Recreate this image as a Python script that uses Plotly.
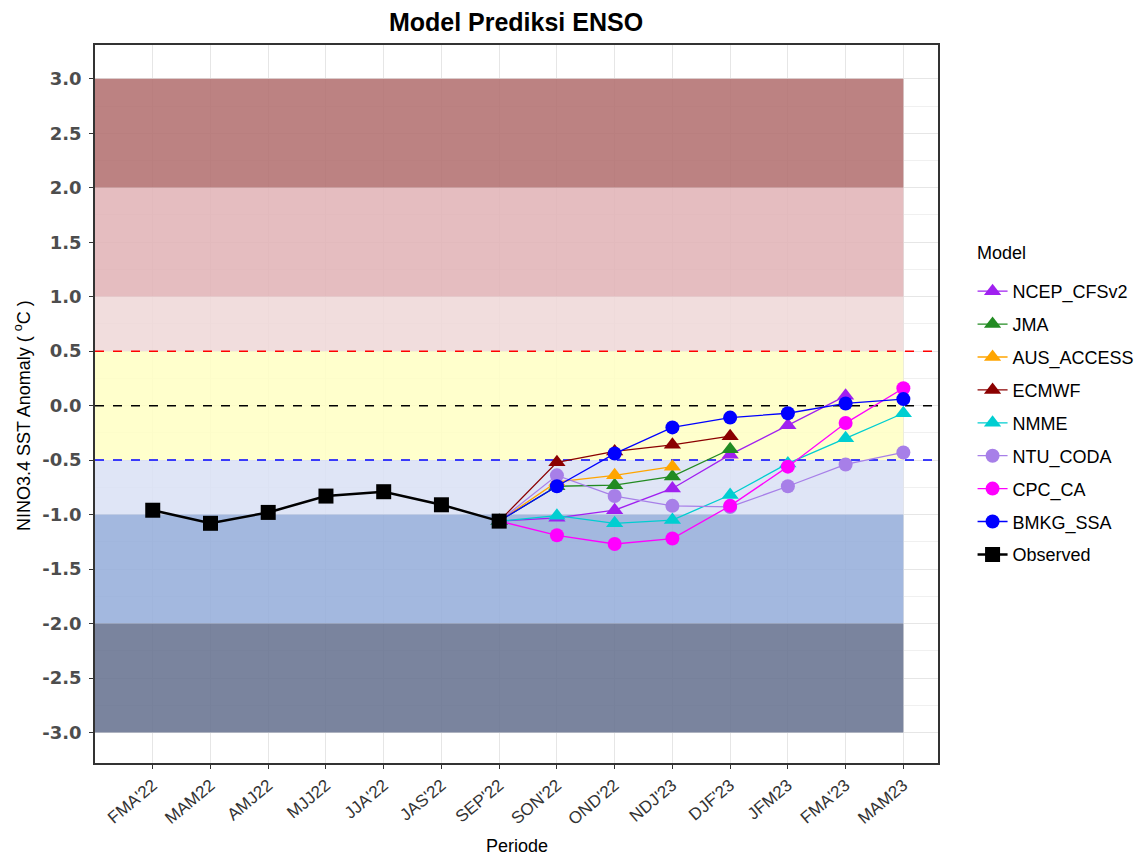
import plotly.graph_objects as go

periods = ["FMA'22", "MAM22", "AMJ22", "MJJ22", "JJA'22", "JAS'22", "SEP'22",
           "SON'22", "OND'22", "NDJ'23", "DJF'23", "JFM23", "FMA'23", "MAM23"]
y_ticks = [3.0, 2.5, 2.0, 1.5, 1.0, 0.5, 0.0, -0.5, -1.0, -1.5, -2.0, -2.5, -3.0]

observed = [-0.96, -1.08, -0.98, -0.83, -0.79, -0.91, -1.06]

# forecasts start at SEP'22 (index 6)
ncep = [-1.06, -1.03, -0.96, -0.76, -0.45, -0.18, 0.09]
jma = [-1.06, -0.74, -0.73, -0.65, -0.40]
aus = [-1.06, -0.70, -0.64, -0.56]
ecmwf = [-1.06, -0.52, -0.42, -0.36, -0.28]
nmme = [-1.06, -1.01, -1.08, -1.05, -0.82, -0.53, -0.30, -0.07]
ntu = [-1.06, -0.64, -0.83, -0.92, -0.93, -0.74, -0.54, -0.43]
cpc = [-1.06, -1.19, -1.27, -1.22, -0.92, -0.56, -0.16, 0.16]
bmkg = [-1.06, -0.74, -0.44, -0.20, -0.11, -0.07, 0.02, 0.06]

models = [
    ("NCEP_CFSv2", ncep, "#A020F0", "triangle-up"),
    ("JMA", jma, "#228B22", "triangle-up"),
    ("AUS_ACCESS", aus, "#FFA500", "triangle-up"),
    ("ECMWF", ecmwf, "#8B0000", "triangle-up"),
    ("NMME", nmme, "#00CED1", "triangle-up"),
    ("NTU_CODA", ntu, "#A77FE8", "circle"),
    ("CPC_CA", cpc, "#FF00FF", "circle"),
    ("BMKG_SSA", bmkg, "#0000FF", "circle"),
]

bands = [
    (2.0, 3.0, "rgba(176,108,108,0.85)"),
    (1.0, 2.0, "rgba(224,178,181,0.85)"),
    (0.5, 1.0, "rgba(239,215,215,0.85)"),
    (-0.5, 0.5, "rgba(255,255,195,0.85)"),
    (-1.0, -0.5, "rgba(217,225,244,0.85)"),
    (-2.0, -1.0, "rgba(147,171,217,0.85)"),
    (-3.0, -2.0, "rgba(99,111,141,0.85)"),
]

FONT = "Liberation Sans, Arial, sans-serif"
X_RANGE = [-1.0, 13.6]
ML, MR, MT, MB = 87, 218, 37, 101
W, H = 1148, 856
PW, PH = W - ML - MR, H - MT - MB

fig = go.Figure()

n_last = len(periods) - 1
for lo, hi, col in bands:
    fig.add_shape(type="rect", xref="x", yref="y", x0=X_RANGE[0], x1=n_last, y0=lo, y1=hi,
                  fillcolor=col, line=dict(width=0), layer="between")

for yv, col in [(0.5, "#FF0000"), (0.0, "#000000"), (-0.5, "#0000FF")]:
    fig.add_shape(type="line", xref="x", yref="y", x0=X_RANGE[0], x1=X_RANGE[1], y0=yv, y1=yv,
                  line=dict(color=col, width=1.5, dash="dash"), layer="between")

start = len(observed) - 1
for name, vals, col, sym in models:
    xs = list(range(start, start + len(vals)))
    size = 15 if sym == "triangle-up" else 14
    fig.add_trace(go.Scatter(
        x=xs, y=vals, mode="lines+markers", name=name, legendgroup=name,
        line=dict(color=col, width=1.3),
        marker=dict(color=col, symbol=sym, size=size, line=dict(width=0)),
    ))

fig.add_trace(go.Scatter(
    x=list(range(len(observed))), y=observed, mode="lines+markers", name="Observed",
    legendgroup="Observed",
    line=dict(color="#000000", width=2.5),
    marker=dict(color="#000000", symbol="square", size=15),
))

fig.add_annotation(text="Model", xref="paper", yref="paper", x=(967 - ML) / PW,
                   y=1 - (245 - MT) / PH,
                   xanchor="left", yanchor="middle", showarrow=False,
                   font=dict(size=18, color="#000000", family=FONT))
fig.add_annotation(text="Periode", xref="paper", yref="paper", x=0.5,
                   y=(H - MB - 838) / PH, xanchor="center", yanchor="middle", showarrow=False,
                   font=dict(size=18, color="#000000", family=FONT))
fig.add_annotation(text="NINO3.4 SST Anomaly ( <sup>o</sup>C )", xref="paper", yref="paper",
                   x=(14 - ML) / PW, y=(H - MB - 408) / PH, textangle=-90,
                   xanchor="center", yanchor="middle", showarrow=False,
                   font=dict(size=18, color="#000000", family=FONT))

fig.update_layout(
    width=W, height=H,
    margin=dict(l=ML, r=MR, t=MT, b=MB),
    paper_bgcolor="white", plot_bgcolor="white",
    font=dict(family=FONT, color="#000000"),
    title=dict(text="<b>Model Prediksi ENSO</b>", x=508 / W, xanchor="center",
               y=1 - 14 / H, yanchor="middle", font=dict(size=25, color="#000000")),
    legend=dict(x=1.041, xanchor="left",
                y=1 - (265 - MT) / PH, yanchor="top", font=dict(size=18), tracegroupgap=6.5,
                bgcolor="rgba(0,0,0,0)"),
    showlegend=True,
)

fig.update_xaxes(
    range=X_RANGE, tickmode="array", tickvals=list(range(len(periods))),
    ticktext=periods, tickangle=-40, tickfont=dict(size=17, color="#333333"),
    showgrid=True, gridcolor="#E6E6E6", gridwidth=1, zeroline=False,
    showline=True, linecolor="#333333", linewidth=1.5, mirror=True,
    ticks="outside", ticklen=4, tickcolor="#333333", automargin=False,
)
fig.update_yaxes(
    range=[-3.28, 3.31], tickmode="array", tickvals=y_ticks,
    ticktext=[f"{v:.1f}" for v in y_ticks],
    tickfont=dict(size=18, color="#4D4D4D", family="DejaVu Sans", weight="bold"),
    ticklabelstandoff=4,
    showgrid=True, gridcolor="#E6E6E6", gridwidth=1, zeroline=False,
    minor=dict(tickvals=[v + 0.25 for v in y_ticks[1:]], showgrid=True,
               gridcolor="#F0F0F0", gridwidth=0.8),
    showline=True, linecolor="#333333", linewidth=1.5, mirror=True,
    ticks="outside", ticklen=4, tickcolor="#333333", automargin=False,
)

fig.write_html("out.html")
